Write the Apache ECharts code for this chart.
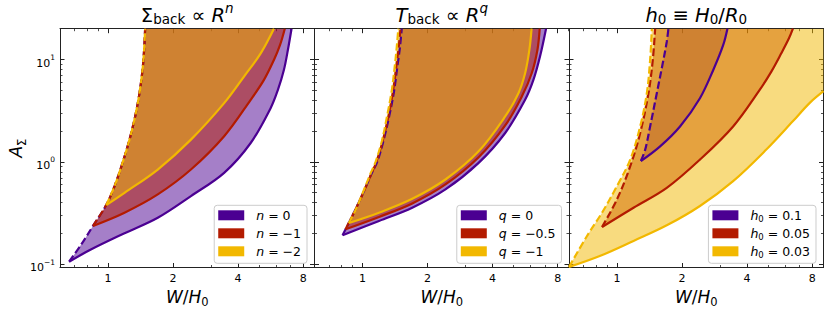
<!DOCTYPE html>
<html><head><meta charset="utf-8">
<script src="https://cdn.jsdelivr.net/npm/echarts@6/dist/echarts.min.js"></script>
<style>html,body{margin:0;padding:0;background:#fff}#c{width:830px;height:313px}</style>
</head><body><div id="c"></div>
<script>
// ---------------- data ----------------
const X_TICKS = [1, 2, 4, 8];
const X_MINOR_TICKS = [0.7, 0.8, 0.9, 3, 5, 6, 7, 9];
const Y_TICKS = [0.1, 1, 10];
const Y_MINOR_TICKS = [0.2, 0.3, 0.4, 0.5, 0.6, 0.7, 0.8, 0.9, 2, 3, 4, 5, 6, 7, 8, 9];
const X_RANGE = [0.6, 9.03];
const Y_RANGE = [0.093, 20];

const PANEL1_NAMES = ['n = 0', 'n = \u22121', 'n = \u22122'];
const PANEL2_NAMES = ['q = 0', 'q = \u22120.5', 'q = \u22121'];
const PANEL3_NAMES = ['h0 = 0.1', 'h0 = 0.05', 'h0 = 0.03'];

// Panel 1 : Sigma_back ∝ R^n
const P1_N0_SOLID = [[0.661,0.106],[0.838,0.140],[1.193,0.201],[1.70,0.285],[2.421,0.464],[3.448,0.782],[4.575,1.53],[5.657,3.35],[6.114,5.05],[6.516,7.9],[6.80,12.4],[7.07,20]];
const P1_N0_DASHED = [[0.661,0.106],[0.754,0.157],[0.853,0.237],[0.982,0.379],[1.073,0.58],[1.172,1.0],[1.258,1.65],[1.336,2.78],[1.399,4.69],[1.445,7.9],[1.47,12.4],[1.486,20]];
const P1_N1_SOLID = [[0.853,0.237],[1.193,0.319],[1.70,0.481],[2.421,0.842],[3.448,1.78],[4.575,4.04],[5.27,6.32],[5.86,9.9],[6.25,13.8],[6.58,20]];
const P1_N1_DASHED = [[0.853,0.237],[0.982,0.379],[1.073,0.58],[1.172,1.0],[1.258,1.65],[1.336,2.78],[1.399,4.69],[1.445,7.9],[1.47,12.4],[1.486,20]];
const P1_N2_SOLID = [[0.982,0.379],[1.193,0.499],[1.70,0.842],[2.421,1.65],[3.448,3.75],[4.26,6.81],[5.09,11.5],[5.86,20]];
const P1_N2_DASHED = [[0.982,0.379],[1.073,0.58],[1.172,1.0],[1.258,1.65],[1.336,2.78],[1.399,4.69],[1.445,7.9],[1.47,12.4],[1.486,20]];

// Panel 2 : T_back ∝ R^q
const P2_Q0_SOLID = [[0.809,0.192],[1.193,0.265],[1.70,0.357],[2.421,0.538],[3.448,0.978],[4.575,1.915],[5.657,4.04],[6.18,6.32],[6.63,10.7],[7.07,20]];
const P2_Q0_DASHED = [[0.809,0.192],[0.9,0.30],[1.0,0.48],[1.1,0.76],[1.17,1.0],[1.25,1.6],[1.33,2.8],[1.40,4.9],[1.45,8.5],[1.49,13],[1.52,20]];
const P2_Q1_SOLID = [[0.835,0.22],[1.193,0.29],[1.70,0.393],[2.421,0.602],[3.448,1.11],[4.575,2.27],[5.46,4.35],[6.07,7.34],[6.45,12.4],[6.61,20]];
const P2_Q1_DASHED = [[0.835,0.22],[0.9,0.30],[1.0,0.48],[1.1,0.77],[1.16,1.0],[1.24,1.6],[1.32,2.8],[1.385,4.9],[1.435,8.5],[1.47,13],[1.50,20]];
const P2_Q2_SOLID = [[0.865,0.253],[1.193,0.319],[1.70,0.436],[2.421,0.673],[3.448,1.27],[4.575,2.78],[5.27,4.69],[5.657,7.34],[5.92,12.4],[6.06,20]];
const P2_Q2_DASHED = [[0.865,0.253],[0.93,0.34],[1.0,0.49],[1.09,0.77],[1.15,1.0],[1.23,1.6],[1.30,2.8],[1.365,4.9],[1.41,8.5],[1.44,13],[1.465,20]];

// Panel 3 : h0 = H0/R0
const P3_H1_SOLID = [[1.29,1.02],[1.584,1.42],[1.958,2.22],[2.421,4.19],[2.79,7.91],[3.10,13.8],[3.245,20]];
const P3_H1_DASHED = [[1.29,1.02],[1.351,1.318],[1.424,2.22],[1.529,4.69],[1.629,9.18],[1.70,14.9],[1.73,20]];
const P3_H2_SOLID = [[0.853,0.231],[1.193,0.357],[1.70,0.558],[2.421,1.053],[3.448,2.22],[4.575,5.05],[5.18,7.62],[5.76,11.5],[6.25,16.1],[6.52,20]];
const P3_H2_DASHED = [[0.853,0.231],[1.0,0.43],[1.152,0.907],[1.281,1.915],[1.399,4.69],[1.465,9.9],[1.502,20]];
const P3_H3_SOLID = [[0.6,0.094],[0.838,0.121],[1.193,0.169],[1.70,0.240],[2.421,0.371],[3.448,0.649],[4.91,1.32],[6.51,2.49],[7.78,3.75],[9.03,4.9]];
const P3_H3_DASHED = [[0.6,0.094],[0.727,0.189],[0.853,0.319],[1.0,0.58],[1.152,1.053],[1.281,2.22],[1.375,4.69],[1.424,9.9],[1.45,20]];

// ---------------- styling ----------------
const FONT = 'DejaVu Sans';
const COLORS = ['#4B0092', '#B31B00', '#F2B800'];
const FILLS = ['rgba(75,0,146,0.5)', 'rgba(179,27,0,0.5)', 'rgba(242,184,0,0.5)'];
const GRID_LEFT = [60, 314.5, 569];
const GRID_TOP = 28.7, GRID_W = 254.5, GRID_H = 239.8;
const AX = '#222';
const SMOOTH = 0.35;

function tok(size, padTop, italic, lh, padBottom) {
  return { fontFamily: FONT, fontSize: size, lineHeight: lh, padding: [padTop, 0, padBottom || 0, 0],
           verticalAlign: 'top', color: '#000', fontWeight: 'normal', fontStyle: italic ? 'italic' : 'normal' };
}
const TITLE_RICH = { m: tok(19.5, 5, false, 22), i: tok(19.5, 5, true, 22), sb: tok(13.5, 12, false, 15), sp: tok(13.5, 1, false, 15), spi: tok(13.5, 1, true, 15) };
const NAME_RICH = { m: tok(17, 2, false, 19, 2), i: tok(17, 2, true, 19, 2), sb: tok(11.5, 10, false, 12) };
const LEG_RICH = { m: tok(12.5, 1, false, 14, 2), i: tok(12.5, 1, true, 14, 2), sb: tok(8.5, 6, false, 9), sp: { width: 7 } };
const YL_RICH = { b: tok(11, 4, false, 12), s: tok(7.5, 0, false, 8) };

const PANEL_TITLES = [
  '{m|\u03A3}{sb|back}{m| \u221D }{i|R}{spi|n}',
  '{i|T}{sb|back}{m| \u221D }{i|R}{spi|q}',
  '{i|h}{sb|0}{m| \u2261 }{i|H}{sb|0}{m|/}{i|R}{sb|0}'
];
const LEGEND_TEXT = {};
LEGEND_TEXT[PANEL1_NAMES[0]] = '{sp|}{i|n}{m| = 0}';
LEGEND_TEXT[PANEL1_NAMES[1]] = '{sp|}{i|n}{m| = \u22121}';
LEGEND_TEXT[PANEL1_NAMES[2]] = '{sp|}{i|n}{m| = \u22122}';
LEGEND_TEXT[PANEL2_NAMES[0]] = '{sp|}{i|q}{m| = 0}';
LEGEND_TEXT[PANEL2_NAMES[1]] = '{sp|}{i|q}{m| = \u22120.5}';
LEGEND_TEXT[PANEL2_NAMES[2]] = '{sp|}{i|q}{m| = \u22121}';
LEGEND_TEXT[PANEL3_NAMES[0]] = '{sp|}{i|h}{sb|0}{m| = 0.1}';
LEGEND_TEXT[PANEL3_NAMES[1]] = '{sp|}{i|h}{sb|0}{m| = 0.05}';
LEGEND_TEXT[PANEL3_NAMES[2]] = '{sp|}{i|h}{sb|0}{m| = 0.03}';

const PANELS = [
  { names: PANEL1_NAMES, solid: [P1_N0_SOLID, P1_N1_SOLID, P1_N2_SOLID], dashed: [P1_N0_DASHED, P1_N1_DASHED, P1_N2_DASHED] },
  { names: PANEL2_NAMES, solid: [P2_Q0_SOLID, P2_Q1_SOLID, P2_Q2_SOLID], dashed: [P2_Q0_DASHED, P2_Q1_DASHED, P2_Q2_DASHED] },
  { names: PANEL3_NAMES, solid: [P3_H1_SOLID, P3_H2_SOLID, P3_H3_SOLID], dashed: [P3_H1_DASHED, P3_H2_DASHED, P3_H3_DASHED] }
];

// Follow the same bezier smoothing the line series uses, so fill edges sit under the lines.
function clamp(v, a, b) { return Math.max(Math.min(v, Math.max(a, b)), Math.min(a, b)); }
function smoothPixels(P, smooth) {
  const out = [P[0]];
  let cp0 = P[0].slice();
  for (let k = 1; k < P.length; k++) {
    const x = P[k][0], y = P[k][1], px = P[k - 1][0], py = P[k - 1][1];
    let cp1, nextCp0;
    if (k === P.length - 1) { cp1 = [x, y]; nextCp0 = [x, y]; }
    else {
      const nx = P[k + 1][0], ny = P[k + 1][1];
      let vx = nx - px, vy = ny - py;
      const l0 = Math.hypot(x - px, y - py) || 1e-6, l1 = Math.hypot(nx - x, ny - y) || 1e-6;
      const r = l1 / (l0 + l1);
      let n0x = clamp(x + vx * smooth * r, nx, x), n0y = clamp(y + vy * smooth * r, ny, y);
      vx = n0x - x; vy = n0y - y;
      let c1x = clamp(x - vx * l0 / l1, px, x), c1y = clamp(y - vy * l0 / l1, py, y);
      vx = x - c1x; vy = y - c1y;
      n0x = x + vx * l1 / l0; n0y = y + vy * l1 / l0;
      cp1 = [c1x, c1y]; nextCp0 = [n0x, n0y];
    }
    for (let s = 1; s <= 12; s++) {
      const t = s / 12, u = 1 - t;
      out.push([
        u*u*u*px + 3*u*u*t*cp0[0] + 3*u*t*t*cp1[0] + t*t*t*x,
        u*u*u*py + 3*u*u*t*cp0[1] + 3*u*t*t*cp1[1] + t*t*t*y
      ]);
    }
    cp0 = nextCp0;
  }
  return out;
}

// ---------------- build option ----------------
const grid = [], xAxis = [], yAxis = [], series = [], title = [], legend = [];

function xAx(g, pos, major, withLabel) {
  return {
    gridIndex: g, type: 'log', logBase: 2, min: X_RANGE[0], max: X_RANGE[1], position: pos,
    axisLine: { show: major, onZero: false, lineStyle: { color: AX, width: 1 } },
    axisTick: { show: true, inside: true, length: major ? 4.5 : 2.5, customValues: major ? X_TICKS : X_MINOR_TICKS,
                lineStyle: { color: AX, width: major ? 1 : 0.8 } },
    axisLabel: { show: withLabel, customValues: X_TICKS, formatter: v => String(Math.round(v)),
                 fontFamily: FONT, fontSize: 11, color: '#000', margin: 5 },
    splitLine: { show: false },
    name: withLabel ? '{i|W}{m|/}{i|H}{sb|0}' : '', nameLocation: 'middle', nameGap: 18.5, nameMoveOverlap: false,
    nameTextStyle: { rich: NAME_RICH }
  };
}
function yAx(g, pos, major, withLabel, withName) {
  return {
    gridIndex: g, type: 'log', logBase: 10, min: Y_RANGE[0], max: Y_RANGE[1], position: pos,
    axisLine: { show: major, onZero: false, lineStyle: { color: AX, width: 1 } },
    axisTick: { show: true, inside: true, length: major ? 4.5 : 2.5, customValues: major ? Y_TICKS : Y_MINOR_TICKS,
                lineStyle: { color: AX, width: major ? 1 : 0.8 } },
    axisLabel: { show: withLabel, customValues: Y_TICKS, margin: 5,
                 formatter: v => { const e = Math.round(Math.log10(v)); return '{b|10}{s|' + (e < 0 ? '\u2212' + (-e) : e) + '}'; },
                 rich: YL_RICH },
    splitLine: { show: false },
    name: withName ? '{i|A}{sb|\u03A3}' : '', nameLocation: 'middle', nameGap: 45, nameRotate: 90,
    nameMoveOverlap: false,
    nameTextStyle: { rich: NAME_RICH, align: 'center', verticalAlign: 'middle' }
  };
}

PANELS.forEach((P, g) => {
  grid.push({ left: GRID_LEFT[g], top: GRID_TOP, width: GRID_W, height: GRID_H, containLabel: false });
  xAxis.push(xAx(g, 'bottom', true, true));
  xAxis.push(xAx(g, 'top', true, false));
  xAxis.push(xAx(g, 'bottom', false, false));
  xAxis.push(xAx(g, 'top', false, false));
  yAxis.push(yAx(g, 'left', true, g === 0, g === 0));
  yAxis.push(yAx(g, 'right', true, false, false));
  yAxis.push(yAx(g, 'left', false, false, false));
  yAxis.push(yAx(g, 'right', false, false, false));
  const xi = 4 * g, yi = 4 * g;

  // filled regions (drawn first, like matplotlib's fill_between)
  for (let k = 0; k < 3; k++) {
    const solid = P.solid[k], dashed = P.dashed[k], fill = FILLS[k];
    series.push({
      type: 'custom', xAxisIndex: xi, yAxisIndex: yi, z: 1, silent: true, clip: true,
      data: [solid[0]],
      renderItem: function (params, api) {
        let pts = smoothPixels(solid.map(p => api.coord(p)), SMOOTH);
        const last = solid[solid.length - 1];
        if (last[1] < Y_RANGE[1]) pts.push(api.coord([last[0], Y_RANGE[1]]));
        const dp = smoothPixels(dashed.map(p => api.coord(p)), SMOOTH).reverse();
        pts = pts.concat(dp);
        return { type: 'polygon', shape: { points: pts }, style: { fill: fill, stroke: null } };
      }
    });
  }
  // boundary lines
  for (let k = 0; k < 3; k++) {
    series.push({
      type: 'line', name: P.names[k], xAxisIndex: xi, yAxisIndex: yi, z: 3,
      data: P.solid[k], showSymbol: false, smooth: SMOOTH, clip: true, silent: true,
      lineStyle: { color: COLORS[k], width: 2.2 }, itemStyle: { color: COLORS[k] }
    });
    series.push({
      type: 'line', xAxisIndex: xi, yAxisIndex: yi, z: 3,
      data: P.dashed[k], showSymbol: false, smooth: SMOOTH, clip: true, silent: true,
      lineStyle: { color: COLORS[k], width: 2.2, type: [7.4, 3.2] }, itemStyle: { color: COLORS[k] }
    });
  }

  title.push({ text: PANEL_TITLES[g], left: GRID_LEFT[g] + GRID_W / 2, top: 0, textAlign: 'center', padding: 0,
               textStyle: { rich: TITLE_RICH, fontWeight: 'normal' } });
  legend.push({
    data: P.names, orient: 'vertical', right: 830 - (GRID_LEFT[g] + GRID_W - 7.5), bottom: 49.7,
    icon: 'rect', itemWidth: 26, itemHeight: 10, itemGap: 2, padding: [3, 6, 3, 4],
    backgroundColor: '#fff', borderColor: '#cccccc', borderWidth: 1, borderRadius: 3,
    selectedMode: false, formatter: name => LEGEND_TEXT[name],
    textStyle: { rich: LEG_RICH, fontFamily: FONT, fontSize: 12.5, color: '#000' }
  });
});

const chart = echarts.init(document.getElementById('c'), null, { renderer: 'svg' });
chart.setOption({ animation: false, backgroundColor: '#fff', grid, xAxis, yAxis, series, title, legend });
</script></body></html>
